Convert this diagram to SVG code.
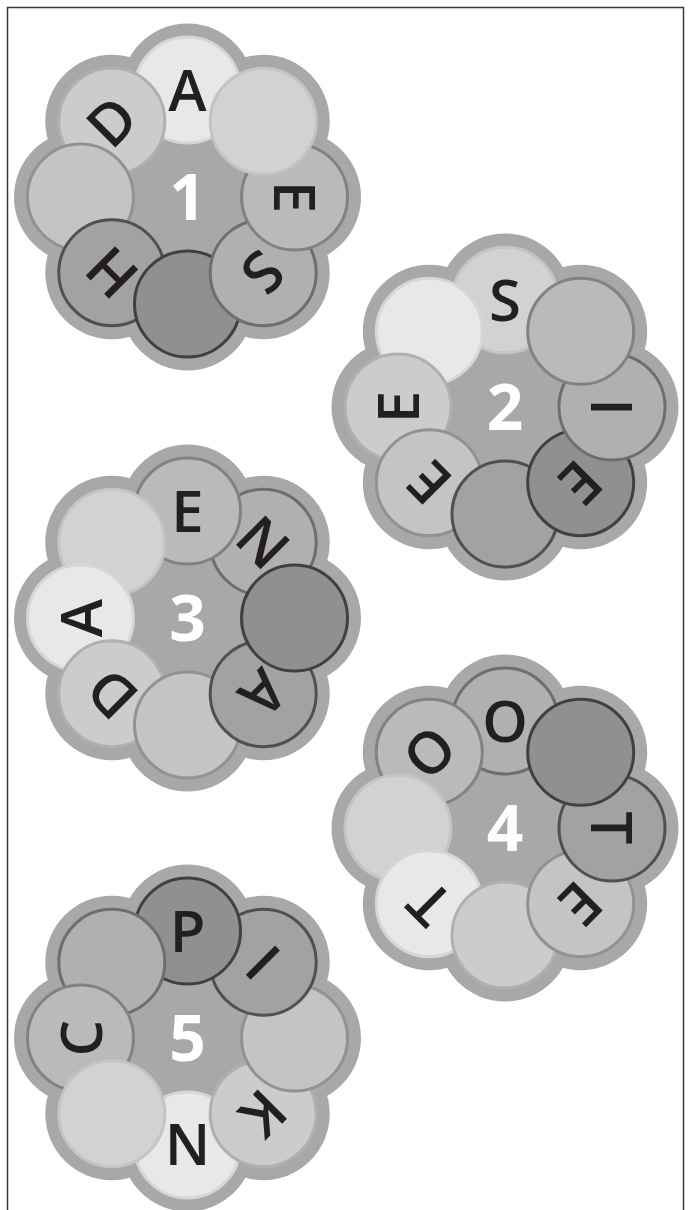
<svg xmlns="http://www.w3.org/2000/svg" width="691" height="1210" viewBox="0 0 691 1210">
<style>
.bg{fill:#a8a8a8}
.p{stroke-width:3}
.L1{fill:#e8e8e8;stroke:#d6d6d6}
.L2{fill:#d2d2d2;stroke:#c4c4c4}
.L3{fill:#cccccc;stroke:#b0b0b0}
.L4{fill:#c4c4c4;stroke:#929292}
.L5{fill:#bababa;stroke:#828282}
.L6{fill:#b0b0b0;stroke:#6e6e6e}
.L7{fill:#a2a2a2;stroke:#505050}
.L8{fill:#909090;stroke:#404040}
.let{font-family:"Open Sans","Liberation Sans",sans-serif;font-weight:600;font-size:58px;fill:#231f20;text-anchor:middle}
.num{font-family:"Open Sans","Liberation Sans",sans-serif;font-weight:700;font-size:64px;fill:#ffffff;text-anchor:middle}
</style>
<defs>
<g id="blob">
<circle class="bg" cx="0" cy="0" r="100"/>
<circle class="bg" cx="0" cy="-107" r="66.5"/>
<circle class="bg" cx="75.7" cy="-75.7" r="66.5"/>
<circle class="bg" cx="107" cy="0" r="66.5"/>
<circle class="bg" cx="75.7" cy="75.7" r="66.5"/>
<circle class="bg" cx="0" cy="107" r="66.5"/>
<circle class="bg" cx="-75.7" cy="75.7" r="66.5"/>
<circle class="bg" cx="-107" cy="0" r="66.5"/>
<circle class="bg" cx="-75.7" cy="-75.7" r="66.5"/>
</g>
</defs>
<rect x="7.5" y="7.5" width="676" height="1220" fill="#ffffff" stroke="#3a3a3a" stroke-width="1.5"/>

<g id="flower1" transform="translate(187.5,197)">
<use href="#blob"/>
<circle class="p L1" cx="0" cy="-107" r="53"/>
<circle class="p L3" cx="-75.7" cy="-75.7" r="53"/>
<circle class="p L4" cx="-107" cy="0" r="53"/>
<circle class="p L7" cx="-75.7" cy="75.7" r="53"/>
<circle class="p L8" cx="0" cy="107" r="53"/>
<circle class="p L6" cx="75.7" cy="75.7" r="53"/>
<circle class="p L5" cx="107" cy="0" r="53"/>
<circle class="p L2" cx="75.7" cy="-75.7" r="53"/>
<text class="let" transform="translate(0,-107)" y="21">A</text>
<text class="let" transform="translate(107,0) rotate(90)" y="21">E</text>
<text class="let" transform="translate(75.7,75.7) rotate(135)" y="21">S</text>
<text class="let" transform="translate(-75.7,75.7) rotate(225)" y="21">H</text>
<text class="let" transform="translate(-75.7,-75.7) rotate(315)" y="21">D</text>
<text class="num" y="23">1</text>
</g>

<g id="flower2" transform="translate(505,407)">
<use href="#blob"/>
<circle class="p L2" cx="0" cy="-107" r="53"/>
<circle class="p L1" cx="-75.7" cy="-75.7" r="53"/>
<circle class="p L3" cx="-107" cy="0" r="53"/>
<circle class="p L4" cx="-75.7" cy="75.7" r="53"/>
<circle class="p L7" cx="0" cy="107" r="53"/>
<circle class="p L8" cx="75.7" cy="75.7" r="53"/>
<circle class="p L6" cx="107" cy="0" r="53"/>
<circle class="p L5" cx="75.7" cy="-75.7" r="53"/>
<text class="let" transform="translate(0,-107)" y="21">S</text>
<text class="let" transform="translate(107,0) rotate(90)" y="21">I</text>
<text class="let" transform="translate(75.7,75.7) rotate(135)" y="21">E</text>
<text class="let" transform="translate(-75.7,75.7) rotate(225)" y="21">E</text>
<text class="let" transform="translate(-107,0) rotate(270)" y="21">E</text>
<text class="num" y="23">2</text>
</g>

<g id="flower3" transform="translate(187.5,618)">
<use href="#blob"/>
<circle class="p L6" cx="75.7" cy="-75.7" r="53"/>
<circle class="p L5" cx="0" cy="-107" r="53"/>
<circle class="p L2" cx="-75.7" cy="-75.7" r="53"/>
<circle class="p L1" cx="-107" cy="0" r="53"/>
<circle class="p L3" cx="-75.7" cy="75.7" r="53"/>
<circle class="p L4" cx="0" cy="107" r="53"/>
<circle class="p L7" cx="75.7" cy="75.7" r="53"/>
<circle class="p L8" cx="107" cy="0" r="53"/>
<text class="let" transform="translate(0,-107)" y="21">E</text>
<text class="let" transform="translate(75.7,-75.7) rotate(45)" y="21">N</text>
<text class="let" transform="translate(75.7,75.7) rotate(135)" y="21">A</text>
<text class="let" transform="translate(-75.7,75.7) rotate(225)" y="21">D</text>
<text class="let" transform="translate(-107,0) rotate(270)" y="21">A</text>
<text class="num" y="23">3</text>
</g>

<g id="flower4" transform="translate(505,828)">
<use href="#blob"/>
<circle class="p L6" cx="0" cy="-107" r="53"/>
<circle class="p L5" cx="-75.7" cy="-75.7" r="53"/>
<circle class="p L2" cx="-107" cy="0" r="53"/>
<circle class="p L1" cx="-75.7" cy="75.7" r="53"/>
<circle class="p L3" cx="0" cy="107" r="53"/>
<circle class="p L4" cx="75.7" cy="75.7" r="53"/>
<circle class="p L7" cx="107" cy="0" r="53"/>
<circle class="p L8" cx="75.7" cy="-75.7" r="53"/>
<text class="let" transform="translate(0,-107)" y="21">O</text>
<text class="let" transform="translate(107,0) rotate(90)" y="21">T</text>
<text class="let" transform="translate(75.7,75.7) rotate(135)" y="21">E</text>
<text class="let" transform="translate(-75.7,75.7) rotate(225)" y="21">T</text>
<text class="let" transform="translate(-75.7,-75.7) rotate(315)" y="21">O</text>
<text class="num" y="23">4</text>
</g>

<g id="flower5" transform="translate(187.5,1038)">
<use href="#blob"/>
<circle class="p L1" cx="0" cy="107" r="53"/>
<circle class="p L3" cx="75.7" cy="75.7" r="53"/>
<circle class="p L4" cx="107" cy="0" r="53"/>
<circle class="p L7" cx="75.7" cy="-75.7" r="53"/>
<circle class="p L8" cx="0" cy="-107" r="53"/>
<circle class="p L6" cx="-75.7" cy="-75.7" r="53"/>
<circle class="p L5" cx="-107" cy="0" r="53"/>
<circle class="p L2" cx="-75.7" cy="75.7" r="53"/>
<text class="let" transform="translate(0,-107)" y="21">P</text>
<text class="let" transform="translate(75.7,-75.7) rotate(45)" y="21">I</text>
<text class="let" transform="translate(75.7,75.7) rotate(135)" y="21">K</text>
<text class="let" transform="translate(0,107) rotate(180)" y="21">N</text>
<text class="let" transform="translate(-107,0) rotate(270)" y="21">C</text>
<text class="num" y="23">5</text>
</g>
</svg>
